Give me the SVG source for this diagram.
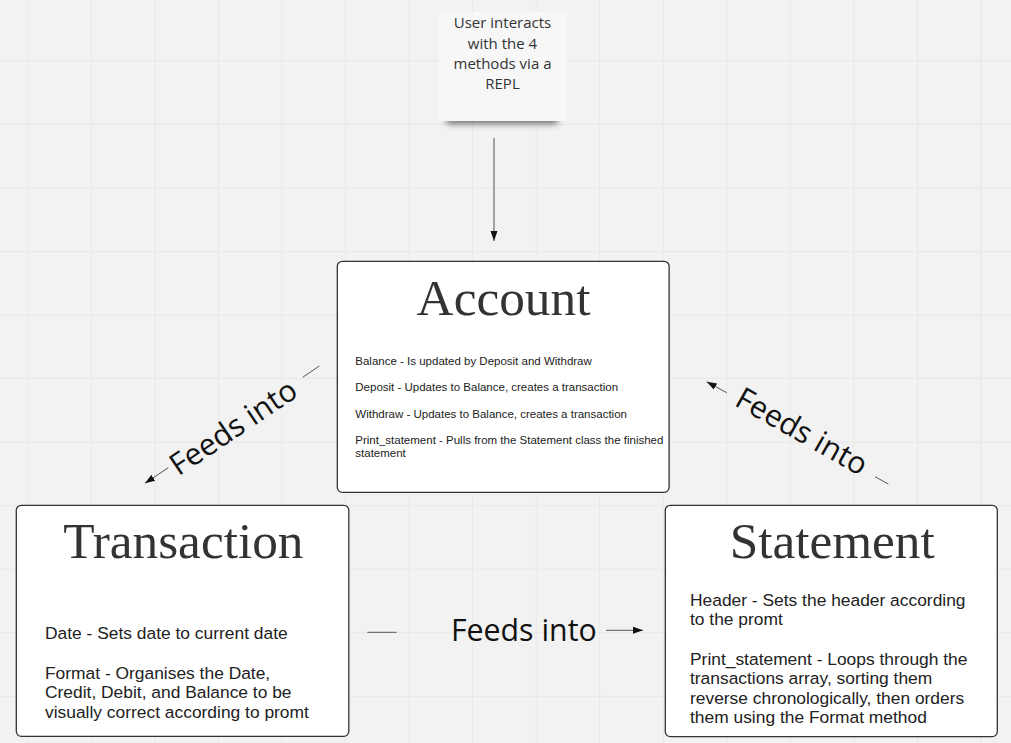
<svg xmlns="http://www.w3.org/2000/svg" width="1011" height="743" viewBox="0 0 1011 743">
<style>
.box{fill:#ffffff;stroke:#333333;stroke-width:1.3}
.title{font-family:"Liberation Serif","Times New Roman",serif;font-size:51.3px;fill:#333333;text-anchor:middle}
.body{font-family:"Liberation Sans",Arial,sans-serif;fill:#222222}
.lbl{font-family:"Open Sans","Noto Sans",sans-serif;font-size:30.3px;fill:#111111;text-anchor:middle}
.note{font-family:"Open Sans","Noto Sans",sans-serif;font-size:15px;fill:#333333;text-anchor:middle}
.conn{stroke:#555555;stroke-width:1;fill:none}
</style>
<defs>
<pattern id="grid" patternUnits="userSpaceOnUse" x="27.3" y="60.3" width="63.55" height="63.55">
<path d="M0 0H63.55M0 0V63.55" stroke="#e5e5e5" stroke-width="1.5" fill="none"/>
</pattern>
<marker id="ah" viewBox="0 0 10 10" refX="10" refY="5" markerWidth="10" markerHeight="10" markerUnits="userSpaceOnUse" orient="auto">
<path d="M0 1.5L10 5L0 8.5Z" fill="#111111"/>
</marker>
<filter id="blur" x="-20%" y="-100%" width="140%" height="300%">
<feGaussianBlur stdDeviation="3"/>
</filter>
</defs>
<rect width="1011" height="743" fill="#f2f2f2"/>
<rect width="1011" height="743" fill="url(#grid)"/>

<g id="note">
<rect x="446" y="112" width="112" height="12" rx="4" fill="#555555" filter="url(#blur)" opacity="0.8"/>
<rect x="439" y="12" width="128" height="109" fill="#f7f7f8"/>
<text class="note" x="502.5" y="28.3">User interacts</text>
<text class="note" x="502.5" y="48.6">with the 4</text>
<text class="note" x="502.5" y="68.9">methods via a</text>
<text class="note" x="502.5" y="89.2">REPL</text>
</g>

<g id="connectors">
<line class="conn" x1="494" y1="138" x2="494" y2="241" stroke="#999999" stroke-width="1.5" marker-end="url(#ah)"/>
<line class="conn" x1="319.3" y1="366" x2="302.7" y2="377.3"/>
<line class="conn" x1="168.3" y1="467.7" x2="145" y2="483.3" marker-end="url(#ah)"/>
<text class="lbl" transform="translate(233,427) rotate(-33.9)" y="10.8">Feeds into</text>
<line class="conn" x1="726.7" y1="392.7" x2="706.7" y2="381.7" marker-end="url(#ah)"/>
<line class="conn" x1="875" y1="476.7" x2="888.3" y2="484"/>
<text class="lbl" transform="translate(802,431) rotate(29.4)" y="10.8">Feeds into</text>
<line class="conn" x1="367.3" y1="632.3" x2="396.7" y2="632.3"/>
<line class="conn" x1="606" y1="630.3" x2="643" y2="630.3" marker-end="url(#ah)"/>
<text class="lbl" x="523.8" y="641">Feeds into</text>
</g>

<g id="account">
<rect class="box" x="337.3" y="261.3" width="331.8" height="231" rx="5"/>
<text class="title" x="503.5" y="315">Account</text>
<g class="body" font-size="11.5">
<text x="355.3" y="365">Balance - Is updated by Deposit and Withdraw</text>
<text x="355.3" y="391.3">Deposit - Updates to Balance, creates a transaction</text>
<text x="355.3" y="417.6">Withdraw - Updates to Balance, creates a transaction</text>
<text x="355.3" y="444.2">Print_statement - Pulls from the Statement class the finished</text>
<text x="355.3" y="456.7">statement</text>
</g>
</g>

<g id="transaction">
<rect class="box" x="16.3" y="505.3" width="332.5" height="231" rx="5"/>
<text class="title" x="183.3" y="558.3">Transaction</text>
<g class="body" font-size="17.4">
<text x="45" y="639.3">Date - Sets date to current date</text>
<text x="45" y="679">Format - Organises the Date,</text>
<text x="45" y="698.4">Credit, Debit, and Balance to be</text>
<text x="45" y="717.8">visually correct according to promt</text>
</g>
</g>

<g id="statement">
<rect class="box" x="665.3" y="505.3" width="332" height="231.3" rx="5"/>
<text class="title" x="832.2" y="558.3">Statement</text>
<g class="body" font-size="17.4">
<text x="690" y="606">Header - Sets the header according</text>
<text x="690" y="625.4">to the promt</text>
<text x="690" y="665">Print_statement - Loops through the</text>
<text x="690" y="684.4">transactions array, sorting them</text>
<text x="690" y="703.8">reverse chronologically, then orders</text>
<text x="690" y="723.2">them using the Format method</text>
</g>
</g>
</svg>
